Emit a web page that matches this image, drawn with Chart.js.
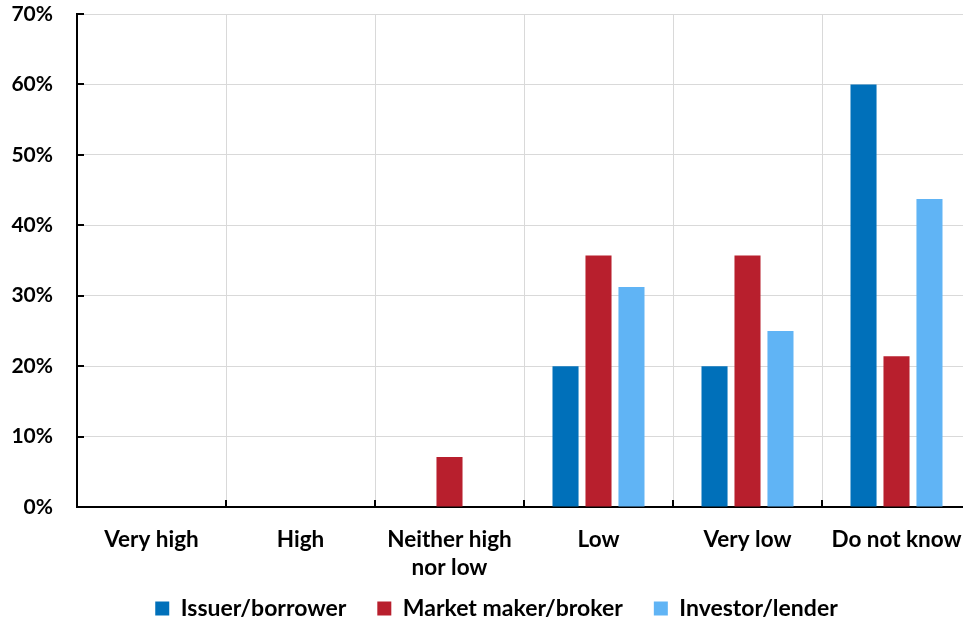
<!DOCTYPE html>
<html>
<head>
<meta charset="utf-8">
<script src="https://cdn.jsdelivr.net/npm/chart.js@4.4.1/dist/chart.umd.min.js"></script>
<style>
  html, body { margin: 0; padding: 0; background: #fff; overflow: hidden; }
  #wrap { position: relative; width: 975px; height: 622px; }
</style>
</head>
<body>
<div id="wrap"><canvas id="c"></canvas></div>
<script>
const categories = ['Very high', 'High', ['Neither high', 'nor low'], 'Low', 'Very low', 'Do not know'];
const issuerBorrower = [0, 0, 0, 20, 20, 60];
const marketMakerBroker = [0, 0, 7.1, 35.7, 35.7, 21.4];
const investorLender = [0, 0, 0, 31.25, 25, 43.75];
const seriesNames = ['Issuer/borrower', 'Market maker/broker', 'Investor/lender'];
const yTicks = [0, 10, 20, 30, 40, 50, 60, 70];

const FONT = 'Lato, Calibri, "Open Sans", sans-serif';

const innerTicks = {
  id: 'innerTicks',
  afterDraw(chart) {
    const ctx = chart.ctx;
    const x = chart.scales.x, y = chart.scales.y;
    const area = chart.chartArea;
    ctx.save();
    ctx.strokeStyle = '#000';
    ctx.lineWidth = 2;
    ctx.beginPath();
    for (let i = 0; i < y.ticks.length; i++) {
      const py = Math.round(y.getPixelForTick(i));
      ctx.moveTo(area.left, py);
      ctx.lineTo(area.left + 7, py);
    }
    for (let i = 1; i < categories.length; i++) {
      const px = Math.round((x.getPixelForTick(i - 1) + x.getPixelForTick(i)) / 2);
      ctx.moveTo(px, area.bottom);
      ctx.lineTo(px, area.bottom - 7);
    }
    ctx.stroke();
    ctx.restore();
  }
};

new Chart(document.getElementById('c'), {
  type: 'bar',
  data: {
    labels: categories,
    datasets: [
      { label: seriesNames[0], data: issuerBorrower, backgroundColor: '#0070BA' },
      { label: seriesNames[1], data: marketMakerBroker, backgroundColor: '#B81F2D' },
      { label: seriesNames[2], data: investorLender, backgroundColor: '#60B4F5' }
    ]
  },
  options: {
    responsive: true,
    maintainAspectRatio: false,
    animation: false,
    datasets: { bar: { categoryPercentage: 0.664, barPercentage: 0.79 } },
    layout: { padding: { top: 14, left: 22, right: 4, bottom: -8 } },
    plugins: {
      tooltip: { enabled: false },
      legend: {
        position: 'bottom',
        labels: {
          font: { family: FONT, size: 23, weight: 'bold' },
          color: '#000',
          boxWidth: 14,
          boxHeight: 14,
          padding: 31
        }
      }
    },
    scales: {
      x: {
        afterFit(s) {
          s.height = 59; s.paddingLeft = 0; s.paddingRight = 0;
          s._computeLabelArea = function () { return undefined; };
        },
        grid: { color: '#D9D9D9', lineWidth: 1, drawTicks: false, offset: true },
        border: { color: '#000', width: 2 },
        ticks: { font: { family: FONT, size: 22.5, weight: 'bold', lineHeight: 1.27 }, color: '#000', padding: 18, maxRotation: 0, autoSkip: false }
      },
      y: {
        min: 0, max: 70,
        afterFit(s) {
          s.width = 55; s.paddingTop = 0; s.paddingBottom = 0;
          s._computeLabelArea = function () { return undefined; };
        },
        afterBuildTicks(s) { s.ticks = yTicks.map(v => ({ value: v })); },
        grid: { color: '#D9D9D9', lineWidth: 1, drawTicks: false },
        border: { color: '#000', width: 2 },
        ticks: { font: { family: FONT, size: 21, weight: 'bold' }, color: '#000', padding: 24, callback: v => v + '%' }
      }
    }
  },
  plugins: [innerTicks]
});
</script>
</body>
</html>
